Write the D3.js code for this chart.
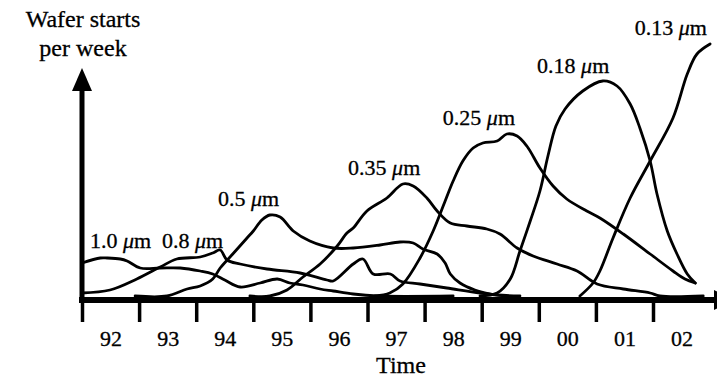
<!DOCTYPE html>
<html>
<head>
<meta charset="utf-8">
<script src="https://cdn.jsdelivr.net/npm/d3@7"></script>
<style>
  body { margin: 0; background: #fff; }
  svg { display: block; font-family: "Liberation Serif", "Times New Roman", serif; }
</style>
</head>
<body>
<svg id="chart" width="717" height="379"></svg>
<script>
// year ticks and their labels (labels sit between ticks)
const tickYears = [1992, 1993, 1994, 1995, 1996, 1997, 1998, 1999, 2000, 2001, 2002];
const yearLabels = ['92', '93', '94', '95', '96', '97', '98', '99', '00', '01', '02'];

// technology nodes
const nodes = ['1.0', '0.8', '0.5', '0.35', '0.25', '0.18', '0.13'];

// wafer starts per week (arbitrary units) over time, one array per node
const starts10 = [[1992.00, 13.2], [1992.32, 15.2], [1992.44, 15.2], [1992.67, 14.8], [1992.79, 14.0],
  [1993.02, 11.2], [1993.37, 11.2], [1993.72, 11.2], [1994.07, 10.0], [1994.29, 8.8], [1994.50, 6.4],
  [1994.77, 3.6], [1995.12, 5.2], [1995.42, 6.8], [1995.64, 5.2], [1995.87, 4.4], [1996.17, 2.8],
  [1996.40, 2.0], [1996.75, 0.8], [1997.17, 0], [1998.50, 0]];
const starts08 = [[1992.00, 1.2], [1992.49, 2.4], [1992.96, 6.8], [1993.37, 11.6], [1993.66, 14.8],
  [1994.07, 15.6], [1994.29, 17.2], [1994.42, 18.4], [1994.54, 14.4], [1994.77, 12.8], [1995.24, 10.8],
  [1995.82, 9.2], [1996.29, 6.4], [1996.40, 6.0], [1996.75, 12.8], [1996.92, 14.8], [1997.10, 8.8],
  [1997.40, 8.8], [1997.57, 6.0], [1997.92, 4.8], [1998.39, 3.2], [1998.97, 1.2], [1999.27, 0.4], [1999.67, 0]];
const starts05 = [[1992.93, 0], [1993.49, 0], [1993.84, 2.8], [1994.07, 4.0], [1994.29, 6.8], [1994.42, 11.2],
  [1994.64, 16.8], [1994.89, 23.2], [1995.00, 26.0], [1995.15, 30.4], [1995.29, 32.4], [1995.47, 31.6],
  [1995.70, 26.0], [1995.99, 22.0], [1996.40, 19.2], [1996.75, 19.2], [1997.22, 20.4], [1997.57, 21.6],
  [1997.80, 21.2], [1997.97, 18.8], [1998.22, 16.8], [1998.36, 13.2], [1998.45, 8.8], [1998.62, 5.2],
  [1998.88, 2.4], [1999.15, 0.8], [1999.41, 0]];
const starts035 = [[1994.94, 0], [1995.29, 0], [1995.59, 2.4], [1995.87, 7.6], [1996.17, 12.8], [1996.47, 20.0],
  [1996.64, 25.2], [1996.75, 27.2], [1996.99, 34.0], [1997.34, 39.2], [1997.62, 44.8], [1997.80, 44.0],
  [1998.04, 39.2], [1998.22, 34.0], [1998.45, 29.2], [1998.74, 28.0], [1999.09, 26.8], [1999.32, 24.8],
  [1999.62, 19.2], [1999.90, 16.0], [2000.32, 12.8], [2000.67, 10.0], [2001.02, 4.8], [2001.48, 2.8],
  [2001.95, 1.2], [2002.12, 0], [2002.88, 0]];
const starts025 = [[1997.13, 0], [1997.39, 1.2], [1997.62, 4.8], [1997.92, 15.2], [1998.15, 26.0], [1998.36, 38.0],
  [1998.50, 46.0], [1998.67, 54.0], [1998.85, 59.2], [1999.02, 61.2], [1999.27, 62.0], [1999.44, 64.8],
  [1999.62, 64.0], [1999.79, 60.0], [2000.02, 51.2], [2000.25, 44.0], [2000.49, 38.8], [2000.84, 34.0],
  [2001.07, 31.2], [2001.48, 24.8], [2001.95, 16.8], [2002.35, 10.0], [2002.56, 6.8], [2002.74, 5.2]];
const starts018 = [[1998.97, 0], [1999.27, 1.2], [1999.50, 6.8], [1999.67, 18.0], [1999.85, 30.0], [2000.02, 42.0],
  [2000.16, 56.0], [2000.30, 68.0], [2000.46, 74.8], [2000.77, 82.0], [2001.12, 86.0], [2001.37, 84.0],
  [2001.60, 76.8], [2001.77, 67.2], [2001.95, 54.0], [2002.07, 40.8], [2002.25, 26.0], [2002.42, 16.8],
  [2002.60, 8.8], [2002.74, 5.2]];
const starts013 = [[2000.72, 0], [2000.95, 5.2], [2001.07, 10.0], [2001.30, 23.2], [2001.60, 39.2],
  [2001.95, 54.0], [2002.35, 71.2], [2002.60, 88.8], [2002.77, 96.8], [2003.00, 100.8]];

const series = [starts10, starts08, starts05, starts035, starts025, starts018, starts013];

// where each node's label sits, in [year, level]
const labelAt = [[1992.14, 19.2], [1993.40, 19.2], [1994.38, 36.0], [1996.66, 48.4],
  [1998.32, 68.4], [1999.97, 89.2], [2001.68, 104.4]];

const svg = d3.select('#chart');

const x = d3.scaleLinear().domain([1992, 2003]).range([82, 710.1]);
const y = d3.scaleLinear().domain([0, 110]).range([296, 21]);

const axisY = 300;

// curves
const line = d3.line()
  .x(d => x(d[0]))
  .y(d => Math.min(y(0), y(d[1])))
  .curve(d3.curveCatmullRom.alpha(0.5));

svg.append('g')
  .selectAll('path')
  .data(series)
  .join('path')
  .attr('d', line)
  .attr('fill', 'none')
  .attr('stroke', '#000')
  .attr('stroke-width', 2.8)
  .attr('stroke-linejoin', 'round')
  .attr('stroke-linecap', 'round');

// tick marks
const tickAxis = svg.append('g')
  .attr('transform', `translate(0,${axisY + 2})`)
  .call(d3.axisBottom(x).tickValues(tickYears).tickSize(20).tickFormat(''));
tickAxis.select('.domain').remove();
tickAxis.selectAll('.tick line').attr('stroke', '#000').attr('stroke-width', 3.5);

// year labels centred between ticks
const labelAxis = svg.append('g')
  .attr('transform', `translate(0,${axisY})`)
  .call(d3.axisBottom(x)
    .tickValues(tickYears.map(t => t + 0.5))
    .tickSize(0)
    .tickPadding(30)
    .tickFormat((d, i) => yearLabels[i]));
labelAxis.select('.domain').remove();
labelAxis.selectAll('.tick text')
  .attr('fill', '#000')
  .attr('stroke', '#000')
  .attr('stroke-width', 0.3)
  .style('font-family', '"Liberation Serif", serif')
  .style('font-size', '22px');

// thick axes
svg.append('line')
  .attr('x1', 79).attr('x2', 717)
  .attr('y1', axisY).attr('y2', axisY)
  .attr('stroke', '#000').attr('stroke-width', 6);
svg.append('path')
  .attr('d', `M714,${axisY - 10}L734,${axisY}L714,${axisY + 10}Z`)
  .attr('fill', '#000');

svg.append('line')
  .attr('x1', 82).attr('x2', 82)
  .attr('y1', axisY + 3).attr('y2', 86)
  .attr('stroke', '#000').attr('stroke-width', 5);
svg.append('path')
  .attr('d', 'M82,68L92,91L72,91Z')
  .attr('fill', '#000');

// node labels
const labels = svg.append('g')
  .selectAll('text')
  .data(nodes)
  .join('text')
  .attr('x', (d, i) => x(labelAt[i][0]))
  .attr('y', (d, i) => y(labelAt[i][1]))
  .style('font-size', '22px')
  .attr('fill', '#000')
  .attr('stroke', '#000')
  .attr('stroke-width', 0.3);
labels.append('tspan').text(d => d + ' ');
labels.append('tspan').style('font-style', 'italic').text('\u03bc');
labels.append('tspan').text('m');

// axis titles
const titles = [['Wafer starts', 83, 27], ['per week', 83, 56], ['Time', 401, 373]];
svg.append('g')
  .selectAll('text')
  .data(titles)
  .join('text')
  .attr('x', d => d[1])
  .attr('y', d => d[2])
  .attr('text-anchor', 'middle')
  .attr('stroke', '#000')
  .attr('stroke-width', 0.3)
  .style('font-size', '24px')
  .text(d => d[0]);
</script>
</body>
</html>
